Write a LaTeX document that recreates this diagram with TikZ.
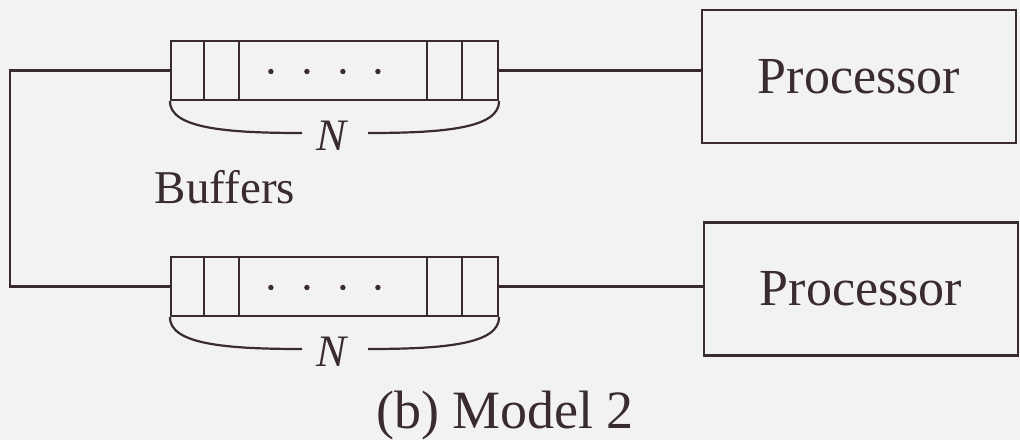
\documentclass[tikz,border=0pt]{standalone}
\usepackage{fontspec}
\setmainfont{Liberation Serif}
\usepackage{tikz}
\usetikzlibrary{positioning,calc}

\definecolor{ink}{HTML}{3A2C2E}
\definecolor{paper}{HTML}{F3F2F2}

\tikzset{
  buffer/.style={draw, minimum width=327pt, minimum height=59pt, inner sep=0pt},
  procbox/.style={draw, minimum width=314pt, minimum height=133pt, inner sep=0pt,
    font=\fontsize{52}{60}\selectfont},
  wire/.style={line width=2.2pt}
}

\begin{document}
\begin{tikzpicture}[x=1pt, y=-1pt, line width=2.2pt, draw=ink, color=ink]
  \fill[paper] (0,0) rectangle (1020,440);
  \useasboundingbox (0,0) rectangle (1020,440);

  % two buffers with their cells and brace
  \foreach \i/\dy in {1/0, 2/216} {
    \node[buffer] (buf\i) at (334.5, 70.5+\dy) {};
    \foreach \dx in {34, 69, 257, 292}
      \draw ($(buf\i.north west)+(\dx,0)$) -- ($(buf\i.south west)+(\dx,0)$);
    \foreach \dx in {101, 137, 173, 208}
      \fill ($(buf\i.west)+(\dx,1)$) circle (2.7pt);
    \node[font=\fontsize{45}{50}\selectfont\itshape, inner sep=0pt] (n\i) at (332, 136+\dy) {N};
    \draw (buf\i.south west) .. controls ++(0,27) and (225,133+\dy) .. (302,133+\dy);
    \draw (368,133+\dy) .. controls (445,133+\dy) and ($(buf\i.south east)+(0,27)$) .. (buf\i.south east);
  }

  \node[procbox] (proc1) at (859, 76.5) {Processor};
  \node[procbox] (proc2) at (861, 289) {Processor};

  \node[font=\fontsize{47}{52}\selectfont, anchor=base] (label) at (225, 203) {Buffers};
  \node[font=\fontsize{54}{60}\selectfont, anchor=base] (caption) at (505, 428) {(b) Model 2};

  % connectors
  \coordinate (corner) at (10, 70);
  \draw[wire] (buf1.west) -- (buf1.west -| corner) |- (buf2.west);
  \draw[wire] (buf1.east) -- (buf1.east -| proc1.west);
  \draw[wire] (buf2.east) -- (buf2.east -| proc2.west);
\end{tikzpicture}
\end{document}
